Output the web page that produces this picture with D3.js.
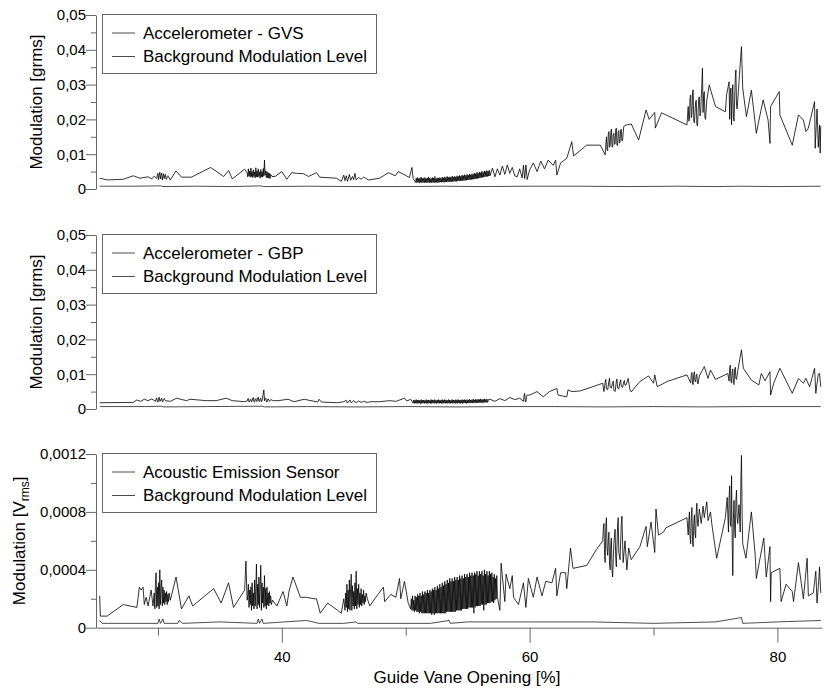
<!DOCTYPE html>
<html>
<head>
<meta charset="utf-8">
<title>Modulation vs Guide Vane Opening</title>
<script src="https://cdn.jsdelivr.net/npm/d3@7"></script>
<style>
    body { margin: 0; background: #fff; }
    #chart { font-family: "Liberation Sans", Arial, sans-serif; }
</style>
</head>
<body>
<svg id="chart" width="832" height="689"></svg>
<script>
// axis settings (values only)
var gvoRange = [25, 83.6];
var xMajorTicks = [40, 60, 80];
var xMinorTicks = [30, 50, 70];
var gTicks = [0, 0.01, 0.02, 0.03, 0.04, 0.05];
var gMinorTicks = [0.005, 0.015, 0.025, 0.035, 0.045];
var vTicks = [0, 0.0004, 0.0008, 0.0012];
var vMinorTicks = [0.0002, 0.0006, 0.001];

// [guide vane opening %, modulation grms] - accelerometer GVS
var gvsLine = [
    [25.3,.0031],[25.9,.0026],[27.2,.0028],[28.0,.0038],[28.55,.0031],[29.2,.0035],[29.5,.0029],[29.7,.0037],
    [29.9,.0030],[29.95,.0041],[30.0,.0045],[30.05,.0027],[30.1,.0040],[30.15,.0048],[30.2,.0029],[30.25,.0039],
    [30.3,.0046],[30.35,.0026],[30.4,.0037],[30.45,.0044],[30.5,.0030],[30.55,.0038],[30.6,.0042],[30.65,.0029],
    [30.7,.0028],[30.75,.0036],[30.8,.0038],
    [31.0,.0026],[31.45,.0052],[31.9,.0034],[32.7,.0034],
    [34.25,.0062],[35.3,.0036],[35.7,.0053],[36.0,.0029],[37.0,.0057],
    [37.20,.0046],[37.25,.0035],[37.30,.0058],[37.35,.0037],[37.40,.0052],[37.45,.0034],[37.50,.0060],[37.55,.0036],
    [37.60,.0050],[37.65,.0033],[37.70,.0055],[37.75,.0036],[37.80,.0049],[37.85,.0032],[37.90,.0061],[37.95,.0035],
    [38.00,.0052],[38.05,.0034],[38.10,.0058],[38.15,.0036],[38.20,.0048],[38.25,.0031],[38.30,.0056],[38.35,.0035],
    [38.40,.0050],[38.45,.0034],[38.50,.0059],[38.55,.0037],[38.60,.0083],[38.65,.0040],[38.70,.0052],[38.75,.0033],
    [38.80,.0050],[38.85,.0032],[38.90,.0047],[38.95,.0031],[39.00,.0045],[39.05,.0030],[39.10,.0042],[39.20,.0036],
    [39.45,.0036],[40.0,.0050],[40.4,.0028],[40.8,.0047],[41.2,.0045],[41.75,.0044],[42.15,.0036],[42.8,.0047],
    [43.05,.0034],[44.4,.0031],[44.8,.0022],
    [45.0,.0040],[45.1,.0024],[45.2,.0038],[45.3,.0022],[45.45,.0042],[45.55,.0025],[45.7,.0036],[45.8,.0027],
    [45.9,.0045],[46.0,.0026],[46.2,.0033],[46.4,.0028],[46.6,.0034],[46.8,.0030],
    [47.0,.0026],[47.9,.0031],[48.6,.0047],[49.15,.0038],[49.4,.0050],[49.95,.0040],[50.3,.0033],[50.5,.0062],[50.6,.0030],
    [50.80,.0019],[50.85,.0031],[50.90,.0018],[50.95,.0033],[51.00,.0019],[51.05,.0030],[51.10,.0018],[51.15,.0032],
    [51.20,.0019],[51.25,.0034],[51.30,.0018],[51.35,.0030],[51.40,.0019],[51.45,.0031],[51.50,.0018],[51.55,.0033],
    [51.60,.0019],[51.65,.0030],[51.70,.0018],[51.75,.0032],[51.80,.0019],[51.85,.0034],[51.90,.0018],[51.95,.0031],
    [52.00,.0019],[52.05,.0030],[52.10,.0018],[52.15,.0033],[52.20,.0019],[52.25,.0031],[52.30,.0018],[52.35,.0036],
    [52.40,.0019],[52.45,.0030],[52.50,.0019],[52.55,.0032],[52.60,.0018],[52.65,.0031],[52.70,.0019],[52.75,.0033],
    [52.80,.0020],[52.85,.0031],[52.90,.0019],[52.95,.0034],[53.00,.0020],[53.05,.0032],[53.10,.0019],[53.15,.0035],
    [53.20,.0020],[53.25,.0033],[53.30,.0020],[53.35,.0036],[53.40,.0021],[53.45,.0033],[53.50,.0020],[53.55,.0035],
    [53.60,.0021],[53.65,.0034],[53.70,.0021],[53.75,.0037],[53.80,.0021],[53.85,.0034],[53.90,.0022],[53.95,.0036],
    [54.00,.0022],[54.05,.0035],[54.10,.0022],[54.15,.0038],[54.20,.0023],[54.25,.0036],[54.30,.0023],[54.35,.0039],
    [54.40,.0023],[54.45,.0037],[54.50,.0024],[54.55,.0040],[54.60,.0024],[54.65,.0038],[54.70,.0024],[54.75,.0041],
    [54.80,.0025],[54.85,.0039],[54.90,.0025],[54.95,.0042],[55.00,.0026],[55.05,.0040],[55.10,.0026],[55.15,.0043],
    [55.20,.0027],[55.25,.0041],[55.30,.0027],[55.35,.0044],[55.40,.0028],[55.45,.0042],[55.50,.0028],[55.55,.0046],
    [55.60,.0029],[55.65,.0044],[55.70,.0030],[55.75,.0048],[55.80,.0030],[55.85,.0045],[55.90,.0031],[55.95,.0049],
    [56.00,.0032],[56.05,.0047],[56.10,.0033],[56.15,.0051],[56.20,.0033],[56.25,.0048],[56.30,.0034],[56.35,.0052],
    [56.40,.0035],[56.45,.0050],[56.50,.0036],[56.55,.0053],[56.60,.0036],[56.65,.0051],[56.70,.0037],[56.75,.0054],
    [56.80,.0038],
    [57.0,.0060],[57.2,.0035],[57.4,.0058],[57.6,.0040],[57.8,.0066],[58.0,.0042],[58.2,.0069],[58.4,.0045],
    [58.6,.0062],[58.8,.0038],[59.0,.0035],[59.2,.0058],[59.4,.0032],[59.5,.0068],[59.6,.0030],[59.7,.0069],
    [59.8,.0027],[60.0,.0055],[60.3,.0075],[60.6,.0050],[60.9,.0080],[61.2,.0058],[61.5,.0083],[61.9,.0068],
    [62.1,.0083],[62.2,.0040],[62.5,.0075],[63.0,.0088],[63.4,.0136],[63.55,.0095],[64.6,.0126],[65.7,.0126],[66.1,.0098],
    [66.2,.0150],[66.25,.0112],[66.3,.0110],[66.35,.0158],[66.4,.0165],[66.45,.0120],[66.5,.0125],[66.55,.0162],
    [66.6,.0172],[66.65,.0122],[66.7,.0120],[66.75,.0158],[66.8,.0160],[66.85,.0128],[66.9,.0130],[66.95,.0170],
    [67.0,.0175],[67.05,.0126],[67.1,.0125],[67.15,.0163],[67.2,.0168],[67.25,.0132],[67.3,.0135],[67.35,.0170],
    [67.4,.0172],[67.45,.0138],[67.5,.0140],[67.6,.0180],
    [67.8,.0184],[68.2,.0187],[68.8,.0141],[69.4,.0227],[69.65,.0200],[70.1,.0220],[70.15,.0175],[70.65,.0219],
    [72.7,.0184],[72.8,.0237],
    [72.85,.0195],[72.9,.0200],[72.95,.0262],[73.0,.0270],[73.05,.0205],[73.1,.0215],[73.15,.0278],[73.2,.0285],
    [73.25,.0195],[73.3,.0190],[73.4,.0250],[73.45,.0255],[73.5,.0185],[73.55,.0181],[73.65,.0260],[73.7,.0265],
    [73.75,.0210],[73.8,.0215],[73.9,.0300],[73.95,.0347],[74.0,.0220],[74.05,.0272],[74.1,.0280],[74.15,.0205],
    [74.2,.0200],[74.3,.0255],
    [74.5,.0299],[75.0,.0237],[75.8,.0222],[75.9,.0271],[76.1,.0308],[76.15,.0200],[76.2,.0282],[76.25,.0290],
    [76.3,.0185],[76.35,.0270],[76.4,.0300],[76.45,.0205],[76.5,.0195],[76.6,.0320],[76.65,.0342],[76.7,.0240],
    [76.75,.0230],[77.0,.0360],[77.1,.0409],[77.2,.0290],[77.5,.0208],[77.9,.0284],
    [78.3,.0160],[78.6,.0213],[78.85,.0256],[79.25,.0198],[79.4,.0131],[79.45,.0237],[80.15,.0280],[80.2,.0213],
    [81.2,.0126],[81.7,.0213],[82.1,.0198],[82.3,.0165],[82.5,.0175],[83.0,.0251],[83.05,.0117],[83.2,.0230],
    [83.3,.0120],[83.4,.0184],[83.45,.0103],[83.5,.0180]
];
var gvsBackground = [
    [25.3,.0008],[28,.0008],[30.2,.0009],[30.4,.0007],[33,.0008],[36,.0007],[38.3,.0009],[38.5,.0007],
    [42,.0008],[46,.0007],[50,.0007],[53,.0008],[56,.0007],[60,.0008],[64,.0008],[68,.0007],[72,.0008],
    [75,.0007],[77,.0008],[80,.0007],[83.5,.0008]
];

// accelerometer GBP
var gbpLine = [
    [25.3,.0018],[28.0,.0019],[28.3,.0026],[28.6,.0022],[28.9,.0028],[29.2,.0024],[29.5,.0029],
    [29.8,.0022],[29.85,.0029],[29.9,.0032],[29.95,.0021],[30.0,.0020],[30.05,.0030],[30.1,.0034],[30.15,.0022],
    [30.2,.0023],[30.25,.0029],[30.3,.0031],[30.35,.0021],[30.4,.0021],[30.45,.0028],[30.5,.0030],[30.6,.0024],
    [31.0,.0022],[31.5,.0031],[32.3,.0024],[32.6,.0028],[33.9,.0024],[34.7,.0024],[35.5,.0031],[36.0,.0024],[37.0,.0021],
    [37.2,.0023],[37.25,.0029],[37.3,.0030],[37.35,.0020],[37.4,.0021],[37.45,.0027],[37.5,.0028],[37.55,.0021],
    [37.6,.0022],[37.65,.0031],[37.7,.0033],[37.75,.0021],[37.8,.0020],[37.85,.0028],[37.9,.0030],[37.95,.0022],
    [38.0,.0023],[38.05,.0032],[38.1,.0034],[38.15,.0022],[38.2,.0021],[38.25,.0030],[38.3,.0031],[38.35,.0021],
    [38.4,.0022],[38.55,.0055],[38.6,.0024],[38.65,.0030],[38.7,.0032],[38.75,.0021],[38.8,.0020],[38.85,.0028],
    [38.9,.0029],[39.0,.0022],[39.1,.0027],[39.3,.0024],
    [39.7,.0024],[40.5,.0028],[41.0,.0021],[41.8,.0028],[42.9,.0020],[43.0,.0028],[43.2,.0020],[44.5,.0018],[45.0,.0021],
    [45.2,.0025],[45.3,.0017],[45.5,.0026],[45.6,.0018],[45.8,.0024],[46.0,.0018],[46.2,.0023],[46.4,.0019],
    [46.6,.0022],[46.9,.0019],[47.2,.0021],
    [47.9,.0021],[48.7,.0024],[49.2,.0022],[49.9,.0031],[50.1,.0023],[50.4,.0028],
    [50.60,.0017],[50.65,.0026],[50.70,.0016],[50.75,.0025],[50.80,.0017],[50.85,.0027],[50.90,.0016],[50.95,.0025],
    [51.00,.0016],[51.05,.0026],[51.10,.0017],[51.15,.0025],[51.20,.0016],[51.25,.0027],[51.30,.0016],[51.35,.0025],
    [51.40,.0017],[51.45,.0026],[51.50,.0016],[51.55,.0025],[51.60,.0017],[51.65,.0027],[51.70,.0016],[51.75,.0025],
    [51.80,.0016],[51.85,.0026],[51.90,.0017],[51.95,.0025],[52.00,.0016],[52.05,.0027],[52.10,.0016],[52.15,.0026],
    [52.20,.0017],[52.25,.0025],[52.30,.0016],[52.35,.0027],[52.40,.0017],[52.45,.0025],[52.50,.0016],[52.55,.0026],
    [52.60,.0017],[52.65,.0027],[52.70,.0016],[52.75,.0025],[52.80,.0017],[52.85,.0026],[52.90,.0016],[52.95,.0027],
    [53.00,.0016],[53.05,.0025],[53.10,.0017],[53.15,.0027],[53.20,.0016],[53.25,.0026],[53.30,.0017],[53.35,.0025],
    [53.40,.0016],[53.45,.0027],[53.50,.0017],[53.55,.0026],[53.60,.0016],[53.65,.0025],[53.70,.0017],[53.75,.0027],
    [53.80,.0016],[53.85,.0026],[53.90,.0017],[53.95,.0025],[54.00,.0016],[54.05,.0027],[54.10,.0017],[54.15,.0026],
    [54.20,.0016],[54.25,.0027],[54.30,.0017],[54.35,.0025],[54.40,.0016],[54.45,.0026],[54.50,.0017],[54.55,.0027],
    [54.60,.0016],[54.65,.0026],[54.70,.0017],[54.75,.0027],[54.80,.0017],[54.85,.0026],[54.90,.0016],[54.95,.0027],
    [55.00,.0017],[55.05,.0026],[55.10,.0017],[55.15,.0028],[55.20,.0017],[55.25,.0026],[55.30,.0018],[55.35,.0027],
    [55.40,.0017],[55.45,.0028],[55.50,.0018],[55.55,.0026],[55.60,.0017],[55.65,.0028],[55.70,.0018],[55.75,.0027],
    [55.80,.0018],[55.85,.0028],[55.90,.0018],[55.95,.0027],[56.00,.0018],[56.05,.0029],[56.10,.0018],[56.15,.0027],
    [56.20,.0019],[56.25,.0028],[56.30,.0018],[56.35,.0029],[56.40,.0019],[56.45,.0027],[56.50,.0019],[56.55,.0029],
    [56.60,.0019],[56.70,.0028],
    [56.8,.0028],[57.2,.0022],[57.6,.0030],[58.0,.0024],[58.4,.0033],[58.8,.0027],[59.2,.0031],[59.5,.0022],
    [59.55,.0038],[59.6,.0045],[59.65,.0022],[59.7,.0020],[59.75,.0036],[59.8,.0040],[60.0,.0040],[60.6,.0050],
    [61.1,.0035],[61.6,.0050],[62.2,.0059],
    [62.3,.0040],[63.0,.0035],[63.1,.0055],[63.4,.0050],[64.1,.0052],[65.1,.0064],[65.9,.0074],
    [66.0,.0050],[66.1,.0078],[66.15,.0085],[66.2,.0058],[66.3,.0055],[66.4,.0080],[66.45,.0088],[66.5,.0062],
    [66.6,.0060],[66.7,.0076],[66.75,.0080],[66.8,.0054],[66.9,.0050],[67.0,.0080],[67.05,.0086],[67.1,.0060],
    [67.2,.0058],[67.3,.0079],[67.35,.0084],[67.4,.0065],[67.5,.0062],[67.6,.0078],[67.65,.0082],[67.7,.0068],
    [67.8,.0070],[67.95,.0088],[68.1,.0055],[68.2,.0049],
    [68.9,.0079],[69.6,.0095],[70.0,.0074],[70.1,.0098],[70.3,.0064],[71.1,.0079],[72.7,.0098],
    [73.0,.0075],[73.05,.0098],[73.1,.0105],[73.15,.0074],[73.2,.0070],[73.25,.0100],[73.3,.0107],[73.35,.0080],
    [73.4,.0078],[73.45,.0096],[73.5,.0100],[73.55,.0075],[73.6,.0072],[73.7,.0095],
    [74.1,.0122],[74.4,.0088],[74.6,.0112],[75.0,.0085],[76.0,.0102],
    [76.1,.0080],[76.15,.0118],[76.2,.0126],[76.25,.0080],[76.3,.0075],[76.35,.0108],[76.4,.0115],[76.45,.0074],
    [76.5,.0070],[76.55,.0112],[76.6,.0120],[76.65,.0088],[76.7,.0085],[76.8,.0110],
    [77.1,.0170],[77.25,.0117],[77.9,.0083],[78.5,.0069],[78.7,.0102],[79.0,.0081],[79.4,.0107],[79.45,.0040],
    [79.7,.0074],[80.2,.0117],[81.2,.0045],[81.7,.0088],[82.1,.0074],[82.3,.0088],[82.6,.0064],[83.0,.0117],
    [83.1,.0045],[83.3,.0100],[83.4,.0102],[83.5,.0064]
];
var gbpBackground = [
    [25.3,.0007],[29,.0007],[30.3,.0008],[30.5,.0006],[34,.0007],[38.4,.0008],[38.6,.0006],[42,.0007],
    [46,.0006],[50,.0007],[54,.0006],[58,.0007],[62,.0007],[66,.0006],[70,.0007],[74,.0006],[78,.0007],[83.5,.0007]
];

// acoustic emission sensor, Vrms
var aeLine = [
    [25.3,.00022],[25.35,.00008],[25.9,.00008],[27.2,.00016],[28.3,.00014],[28.5,.00028],[28.65,.00026],[28.8,.00028],
    [28.9,.00016],[29.05,.00021],[29.2,.00015],[29.45,.00026],[29.6,.00015],
    [29.70,.00024],[29.75,.00013],[29.80,.00030],[29.85,.00038],[29.90,.00014],[29.95,.00028],[30.00,.00015],[30.05,.00031],
    [30.10,.00013],[30.15,.00040],[30.20,.00016],[30.25,.00027],[30.30,.00033],[30.35,.00015],[30.40,.00028],[30.45,.00017],
    [30.50,.00026],[30.55,.00016],[30.60,.00024],[30.65,.00018],[30.70,.00025],[30.75,.00016],[30.80,.00023],[30.85,.00018],
    [30.90,.00024],
    [31.0,.00019],[31.46,.00035],[31.9,.00013],[32.5,.00022],[32.8,.00015],[34.5,.00027],[35.1,.00017],[35.7,.00031],
    [36.1,.00014],[37.0,.00026],[37.1,.00046],[37.2,.00019],
    [37.25,.00022],[37.30,.00030],[37.35,.00014],[37.40,.00026],[37.45,.00016],[37.50,.00028],[37.55,.00012],[37.60,.00031],
    [37.65,.00015],[37.70,.00024],[37.75,.00013],[37.80,.00033],[37.85,.00015],[37.90,.00027],[37.95,.00044],[38.00,.00013],
    [38.05,.00030],[38.10,.00016],[38.15,.00035],[38.20,.00014],[38.25,.00029],[38.30,.00043],[38.35,.00012],[38.40,.00031],
    [38.45,.00017],[38.50,.00028],[38.55,.00014],[38.60,.00036],[38.65,.00015],[38.70,.00027],[38.75,.00013],[38.80,.00028],
    [38.85,.00016],[38.90,.00024],[38.95,.00015],[39.00,.00025],[39.05,.00017],[39.10,.00022],[39.15,.00016],
    [39.26,.00019],[39.6,.00015],[40.1,.00025],[40.4,.00015],[40.6,.00026],[40.9,.00035],[41.5,.00021],[42.0,.00021],
    [42.6,.00020],[42.8,.00020],[43.1,.00010],[43.7,.00017],[44.5,.00012],[44.8,.00010],[45.0,.00020],
    [45.10,.00012],[45.15,.00024],[45.20,.00014],[45.25,.00030],[45.30,.00011],[45.35,.00026],[45.40,.00013],[45.45,.00033],
    [45.50,.00012],[45.55,.00027],[45.60,.00037],[45.65,.00012],[45.70,.00029],[45.75,.00015],[45.80,.00025],[45.85,.00013],
    [45.90,.00031],[45.95,.00015],[46.00,.00039],[46.05,.00013],[46.10,.00027],[46.15,.00016],[46.20,.00030],[46.25,.00014],
    [46.30,.00024],[46.35,.00016],[46.40,.00027],[46.45,.00015],[46.50,.00023],[46.55,.00017],[46.60,.00026],[46.65,.00016],
    [46.70,.00022],[46.75,.00018],[46.80,.00024],
    [46.9,.00020],[47.1,.00015],[47.5,.00020],[48.2,.00028],[48.3,.00018],[48.8,.00023],[49.2,.00021],[49.5,.00034],
    [49.6,.00020],[49.9,.00032],[50.2,.00017],
    [50.40,.00013],[50.45,.00020],[50.50,.00012],[50.55,.00022],[50.60,.00012],[50.65,.00019],[50.70,.00011],[50.75,.00022],
    [50.80,.00012],[50.85,.00021],[50.90,.00011],[50.95,.00023],[51.00,.00011],[51.05,.00022],[51.10,.00010],[51.15,.00024],
    [51.20,.00011],[51.25,.00022],[51.30,.00010],[51.35,.00025],[51.40,.00010],[51.45,.00023],[51.50,.00010],[51.55,.00025],
    [51.60,.00010],[51.65,.00024],[51.70,.00010],[51.75,.00026],[51.80,.00010],[51.85,.00024],[51.90,.00010],[51.95,.00026],
    [52.00,.00010],[52.05,.00025],[52.10,.00009],[52.15,.00027],[52.20,.00010],[52.25,.00026],[52.30,.00009],[52.35,.00028],
    [52.40,.00010],[52.45,.00026],[52.50,.00010],[52.55,.00029],[52.60,.00010],[52.65,.00027],[52.70,.00010],[52.75,.00030],
    [52.80,.00010],[52.85,.00028],[52.90,.00010],[52.95,.00031],[53.00,.00010],[53.05,.00029],[53.10,.00010],[53.15,.00032],
    [53.20,.00010],[53.25,.00030],[53.30,.00011],[53.35,.00033],[53.40,.00011],[53.45,.00031],[53.50,.00011],[53.55,.00034],
    [53.60,.00011],[53.65,.00032],[53.70,.00011],[53.75,.00034],[53.80,.00011],[53.85,.00032],[53.90,.00011],[53.95,.00035],
    [54.00,.00011],[54.05,.00033],[54.10,.00012],[54.15,.00035],[54.20,.00012],[54.25,.00033],[54.30,.00012],[54.35,.00036],
    [54.40,.00012],[54.45,.00034],[54.50,.00012],[54.55,.00036],[54.60,.00013],[54.65,.00034],[54.70,.00013],[54.75,.00037],
    [54.80,.00013],[54.85,.00035],[54.90,.00013],[54.95,.00037],[55.00,.00013],[55.05,.00035],[55.10,.00014],[55.15,.00038],
    [55.20,.00014],[55.25,.00036],[55.30,.00014],[55.35,.00038],[55.40,.00014],[55.45,.00036],[55.50,.00010],[55.55,.00038],
    [55.60,.00014],[55.65,.00037],[55.70,.00015],[55.75,.00039],[55.80,.00015],[55.85,.00036],[55.90,.00015],[55.95,.00039],
    [56.00,.00015],[56.05,.00037],[56.10,.00016],[56.15,.00039],[56.20,.00016],[56.25,.00036],[56.30,.00012],[56.35,.00040],
    [56.40,.00016],[56.45,.00037],[56.50,.00016],[56.55,.00039],[56.60,.00017],[56.65,.00036],[56.70,.00017],[56.75,.00039],
    [56.80,.00017],[56.85,.00037],[56.90,.00018],[56.95,.00038],[57.00,.00018],[57.05,.00035],[57.10,.00017],[57.15,.00037],
    [57.20,.00019],[57.25,.00034],[57.30,.00020],[57.35,.00036],[57.40,.00021],
    [57.6,.00012],[57.7,.000445],[58.0,.00018],[58.1,.00037],[58.4,.00027],[58.6,.00036],[58.7,.00021],[59.1,.00016],
    [59.5,.00031],[59.7,.00014],[59.9,.00034],[60.3,.00021],[60.6,.00035],[61.0,.00022],[61.3,.00032],[61.8,.00031],
    [62.1,.00041],[62.2,.00022],[62.5,.00038],[62.9,.00038],[63.0,.00027],[63.3,.00055],[63.5,.00041],[64.6,.00043],
    [65.4,.00054],
    [65.9,.00060],[65.95,.00068],[66.0,.00072],[66.05,.00050],[66.1,.00045],[66.15,.00070],[66.2,.00076],[66.25,.00055],
    [66.3,.00050],[66.35,.00060],[66.4,.00066],[66.45,.00044],[66.5,.00040],[66.55,.00058],[66.6,.00062],[66.65,.00040],
    [66.7,.00035],[66.8,.00058],[66.9,.00068],[66.95,.00048],[67.0,.00042],[67.1,.00070],[67.15,.00076],[67.2,.00052],
    [67.3,.00047],[67.4,.00072],[67.45,.00077],[67.55,.00045],[67.7,.00060],[67.85,.00040],[68.0,.00055],[68.2,.00047],
    [68.9,.00056],[69.4,.00070],[69.5,.00056],[69.8,.00073],[70.1,.00052],[70.2,.00082],[70.4,.00064],[70.8,.00066],
    [71.0,.00069],[72.7,.00076],
    [72.8,.00064],[72.85,.00074],[72.9,.00080],[72.95,.00062],[73.0,.00058],[73.05,.00076],[73.1,.00083],[73.15,.00060],
    [73.2,.00056],[73.25,.00072],[73.3,.00078],[73.35,.00065],[73.4,.00062],[73.45,.00080],[73.5,.00086],[73.55,.00072],
    [73.6,.00070],[73.7,.00082],[73.85,.00072],[74.0,.00084],[74.1,.00076],[74.3,.00087],[74.4,.00074],[74.6,.00080],
    [74.7,.00072],
    [75.1,.00048],[75.8,.00076],[75.95,.00090],
    [76.05,.00066],[76.1,.00090],[76.15,.00098],[76.2,.00072],[76.25,.00070],[76.3,.00105],[76.35,.00060],[76.4,.00036],
    [76.45,.00075],[76.5,.00088],[76.55,.00068],[76.6,.00062],[76.65,.00088],[76.7,.00095],[76.75,.00076],[76.8,.00072],
    [76.9,.00085],[77.0,.00066],[77.05,.00100],[77.1,.00119],[77.15,.00080],[77.2,.00058],
    [77.46,.00048],[77.9,.00080],[78.2,.00051],[78.3,.00034],[78.9,.00062],[79.1,.00035],[79.4,.00056],[79.45,.00018],
    [79.5,.00038],[80.2,.00041],[80.3,.00018],[80.7,.00030],[81.2,.00025],[81.3,.00018],[81.7,.00045],[82.1,.00020],
    [82.4,.00048],[82.5,.00022],[82.9,.00024],[83.1,.00039],[83.2,.00017],[83.3,.00028],[83.4,.00042],[83.5,.00024]
];
var aeBackground = [
    [25.3,.00005],[25.5,.00003],[28,.00003],[30.0,.00003],[30.1,.00006],[30.2,.00003],[30.4,.00006],[30.5,.00003],
    [31.6,.00003],[31.7,.00005],[32.0,.00003],[35,.00004],[38.0,.00003],[38.1,.00006],[38.2,.00003],[38.4,.00006],
    [38.5,.00003],[42,.00005],[43,.00003],[45,.00003],[46,.00004],[46.1,.00003],[50,.00003],[52,.00003],
    [53.5,.00005],[53.6,.00003],[55,.00004],[60,.00004],[65,.00004],[70,.00003],[75,.00004],[77.1,.00007],
    [77.2,.00003],[80,.00004],[83.5,.00005]
];

var panels = [
    { top: 15, bottom: 189, yMax: 0.05, major: gTicks, minor: gMinorTicks, sub: false, titleX: 42,
      series: gvsLine, bg: gvsBackground, names: ['Accelerometer - GVS', 'Background Modulation Level'] },
    { top: 235, bottom: 409, yMax: 0.05, major: gTicks, minor: gMinorTicks, sub: false, titleX: 42,
      series: gbpLine, bg: gbpBackground, names: ['Accelerometer - GBP', 'Background Modulation Level'] },
    { top: 454, bottom: 627.7, yMax: 0.0012, major: vTicks, minor: vMinorTicks, sub: true, titleX: 25,
      series: aeLine, bg: aeBackground, names: ['Acoustic Emission Sensor', 'Background Modulation Level'] }
];

var svg = d3.select('#chart');
var axisColor = '#666';
var lineColor = '#000';
var fontFamily = '"Liberation Sans", Arial, sans-serif';

var x = d3.scaleLinear().domain(gvoRange).range([96, 822]);

function commaFormat(d) {
    return d === 0 ? '0' : String(+d.toFixed(4)).replace('.', ',');
}

panels.forEach(function (p) {
    var y = d3.scaleLinear().domain([0, p.yMax]).range([p.bottom, p.top]);
    var g = svg.append('g');

    var line = d3.line()
        .x(function (d) { return x(d[0]); })
        .y(function (d) { return y(d[1]); });

    g.append('path').datum(p.bg)
        .attr('d', line).attr('fill', 'none')
        .attr('stroke', lineColor).attr('stroke-width', 0.7);

    g.append('path').datum(p.series)
        .attr('d', line).attr('fill', 'none')
        .attr('stroke', lineColor).attr('stroke-width', 0.8);

    // y axis: minor ticks first, then major with labels
    g.append('g')
        .attr('transform', 'translate(96,0)')
        .call(d3.axisLeft(y).tickValues(p.minor).tickSize(5).tickFormat(''))
        .call(function (a) { a.select('.domain').remove(); });

    var yAxis = g.append('g')
        .attr('transform', 'translate(96,0)')
        .call(d3.axisLeft(y).tickValues(p.major).tickSizeInner(10).tickSizeOuter(0)
            .tickPadding(0).tickFormat(commaFormat));
    yAxis.selectAll('text').attr('font-size', 15).attr('fill', '#000')
        .attr('font-family', fontFamily);

    g.selectAll('.domain, .tick line').attr('stroke', axisColor);

    // y axis title
    var midY = (p.top + p.bottom) / 2;
    var title = g.append('text')
        .attr('transform', 'translate(' + p.titleX + ',' + midY + ') rotate(-90)')
        .attr('text-anchor', 'middle')
        .attr('font-size', 17);
    if (p.sub) {
        title.append('tspan').text('Modulation [V');
        title.append('tspan').attr('font-size', 12).attr('dy', 4).text('rms');
        title.append('tspan').attr('dy', -4).text(']');
    } else {
        title.text('Modulation [grms]');
    }

    // legend
    var lg = g.append('g').attr('transform', 'translate(102,' + (p.top - 1) + ')');
    lg.append('rect')
        .attr('x', 0.5).attr('y', 0.5).attr('width', 274).attr('height', 59)
        .attr('fill', '#fff').attr('stroke', axisColor).attr('stroke-width', 1);
    p.names.forEach(function (name, i) {
        var ly = 19 + i * 23.5;
        lg.append('line')
            .attr('x1', 10).attr('x2', 33).attr('y1', ly).attr('y2', ly)
            .attr('stroke', lineColor).attr('stroke-width', 0.7);
        lg.append('text')
            .attr('x', 41).attr('y', ly + 5.8)
            .attr('font-size', 17).attr('fill', '#000')
            .text(name);
    });

    // x axis only under the last panel
    if (p.sub) {
        g.append('g')
            .attr('transform', 'translate(0,' + p.bottom + ')')
            .call(d3.axisBottom(x).tickValues(xMinorTicks).tickSize(8).tickFormat(''))
            .call(function (a) { a.select('.domain').remove(); });
        var xAxis = g.append('g')
            .attr('transform', 'translate(0,' + p.bottom + ')')
            .call(d3.axisBottom(x).tickValues(xMajorTicks).tickSizeInner(15).tickSizeOuter(0)
                .tickPadding(9));
        xAxis.selectAll('text').attr('font-size', 15).attr('fill', '#000')
            .attr('font-family', fontFamily);
        g.selectAll('.domain, .tick line').attr('stroke', axisColor);

        g.append('text')
            .attr('x', 467).attr('y', 683)
            .attr('text-anchor', 'middle')
            .attr('font-size', 17)
            .text('Guide Vane Opening [%]');
    }
});
</script>
</body>
</html>
